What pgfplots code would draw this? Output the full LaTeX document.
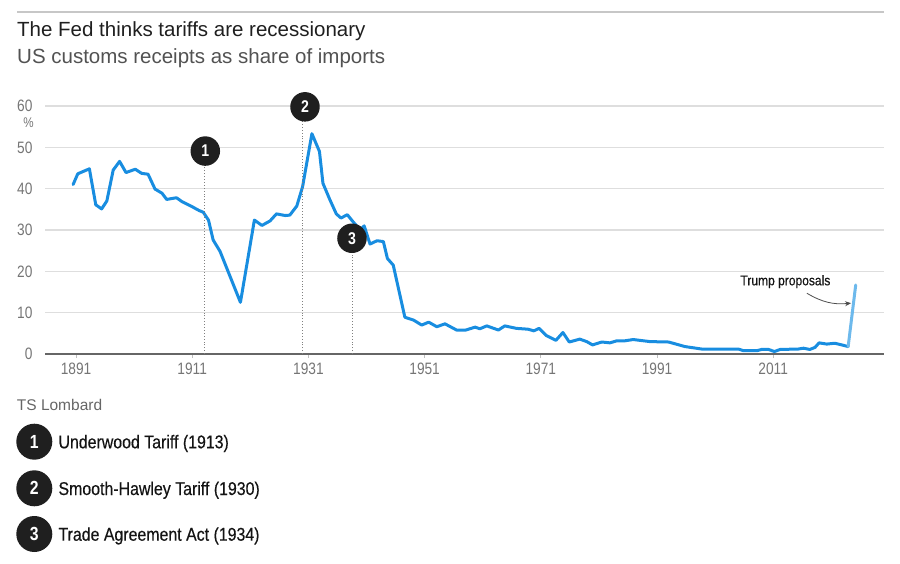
\documentclass[border=0pt]{standalone}
\usepackage{fontspec}
\setmainfont{Liberation Sans}
\newfontfamily\cond[FakeStretch=0.83]{Liberation Sans}
\newfontfamily\condm[FakeStretch=0.86,FakeBold=0.35]{Liberation Sans}
\usepackage{pgfplots}
\pgfplotsset{compat=1.18}
\usetikzlibrary{arrows.meta}
\definecolor{mainblue}{HTML}{188DE0}
\definecolor{lightblue}{HTML}{6DB9EC}
\definecolor{circ}{HTML}{1F1F1F}
\definecolor{ticktxt}{HTML}{757575}
\definecolor{gridc}{HTML}{DEDEDE}
\begin{document}
\begin{tikzpicture}
\useasboundingbox (0pt,0pt) rectangle (900pt,-564pt);
\begin{axis}[
  at={(45pt,-354pt)}, anchor=south west,
  scale only axis, width=839pt, height=248pt,
  xmin=1885.66, xmax=2030.07, ymin=0, ymax=60,
  clip=false,
  axis x line*=bottom, axis y line*=left,
  y axis line style={draw=none},
  x axis line style={draw=black!60, line width=2pt},
  ytick={0,10,...,60},
  xtick={1891,1911,1931,1951,1971,1991,2011},
  /pgf/number format/.cd, 1000 sep={}, assume math mode=true, /pgfplots/.cd,
  ymajorgrids, grid style={draw=gridc, line width=1.3pt},
  ytick style={draw=none},
  xtick style={draw=black!25, line width=1pt},
  tick align=outside, xtick pos=bottom, major tick length=4pt,
  yticklabel style={font=\cond\fontsize{16.5}{16.5}\selectfont, text=ticktxt, xshift=-5pt},
  xticklabel style={font=\cond\fontsize{16.5}{16.5}\selectfont, text=ticktxt, yshift=-1pt},
]
\addplot[color=mainblue, line width=3pt, line join=round, line cap=round] coordinates {
(1890.5,41.0) (1891.3,43.6) (1893.3,44.8) (1894.4,36.1) (1895.4,35.1) (1896.3,37.0) (1897.4,44.5) (1898.5,46.6) (1899.6,43.9) (1901.2,44.7) (1902.3,43.7) (1903.4,43.5) (1904.6,39.9) (1905.8,38.9) (1906.6,37.4) (1908.3,37.8) (1909.2,36.9) (1910.9,35.7) (1912.2,34.7) (1912.9,34.3) (1913.8,32.4) (1914.6,27.6) (1915.8,24.8) (1919.3,12.5) (1921.7,32.4) (1923.0,31.1) (1924.4,32.2) (1925.5,33.9) (1927.0,33.5) (1927.8,33.6) (1929.0,35.8) (1930.0,40.5) (1931.6,53.3) (1932.9,49.0) (1933.5,41.3) (1934.7,37.3) (1935.8,33.9) (1936.6,32.9) (1937.7,33.7) (1938.5,32.3) (1939.9,30.0) (1940.6,31.0) (1941.6,26.6) (1942.8,27.4) (1943.9,27.2) (1944.6,23.1) (1945.6,21.5) (1947.6,8.9) (1949.1,8.2) (1950.5,7.0) (1951.7,7.7) (1953.1,6.6) (1954.5,7.3) (1956.5,5.8) (1958.1,5.8) (1959.7,6.5) (1960.5,6.1) (1961.7,6.8) (1963.7,5.8) (1964.8,6.8) (1966.8,6.2) (1968.8,6.0) (1969.8,5.6) (1970.7,6.2) (1971.9,4.5) (1973.6,3.3) (1974.8,5.2) (1975.9,2.9) (1977.7,3.6) (1978.9,3.0) (1979.9,2.2) (1981.5,2.9) (1982.9,2.7) (1984.1,3.2) (1985.5,3.2) (1986.9,3.5) (1989.8,3.0) (1993.0,2.9) (1995.8,1.8) (1998.7,1.2) (2005.0,1.2) (2005.9,0.8) (2008.2,0.8) (2009.0,1.1) (2010.2,1.1) (2011.2,0.6) (2012.2,1.1) (2015.3,1.2) (2016.2,1.4) (2017.3,1.1) (2018.2,1.6) (2018.9,2.7) (2020.2,2.4) (2021.6,2.6) (2022.8,2.2) (2023.9,1.8)
};
\addplot[color=lightblue, line width=3pt, line cap=round] coordinates {(2023.9,1.8) (2025.2,16.7)};
% event markers
\draw[dotted, black!50, line width=0.9pt] (axis cs:1913.03,0) -- (axis cs:1913.03,49);
\draw[dotted, black!50, line width=0.9pt] (axis cs:1929.95,0) -- (axis cs:1929.95,59);
\draw[dotted, black!50, line width=0.9pt] (axis cs:1938.56,0) -- (axis cs:1938.56,28);
\node[circle, fill=circ, minimum size=29.5pt, inner sep=0pt, text=white, font=\cond\bfseries\fontsize{17}{17}\selectfont] at (axis cs:1913.25,49.1) {1};
\node[circle, fill=circ, minimum size=29.5pt, inner sep=0pt, text=white, font=\cond\bfseries\fontsize{17}{17}\selectfont] at (axis cs:1930.41,59.8) {2};
\node[circle, fill=circ, minimum size=29.5pt, inner sep=0pt, text=white, font=\cond\bfseries\fontsize{17}{17}\selectfont] at (axis cs:1938.5,28.0) {3};
% Trump annotation
\node[font=\condm\fontsize{14}{14}\selectfont, text=black!92] at (axis cs:2013.1,17.5) {Trump proposals};
\draw[-{Stealth[length=6pt,width=5pt]}, black!70, line width=0.8pt] (axis cs:2016.8,14.7) to[bend right=18] (axis cs:2024.4,12.3);
\end{axis}
% header
\draw[black!22, line width=1.2pt] (17pt,-12pt) -- (884pt,-12pt);
\node[anchor=base west, inner sep=0pt, text=black!88, font=\fontsize{20.5}{20.5}\selectfont] at (17pt,-36.7pt) {The Fed thinks tariffs are recessionary};
\node[anchor=base west, inner sep=0pt, text=black!68, font=\fontsize{20.5}{20.5}\selectfont] at (17pt,-63.3pt) {US customs receipts as share of imports};
\node[inner sep=0pt, text=ticktxt, font=\cond\fontsize{14}{14}\selectfont] at (28.5pt,-123pt) {\%};
% footer
\node[anchor=base west, inner sep=0pt, text=black!60, font=\fontsize{15.5}{15.5}\selectfont] at (16.7pt,-410pt) {TS Lombard};
\node[circle, fill=circ, minimum size=36pt, inner sep=0pt, text=white, font=\cond\bfseries\fontsize{19}{19}\selectfont] at (34.3pt,-441.7pt) {1};
\node[circle, fill=circ, minimum size=36pt, inner sep=0pt, text=white, font=\cond\bfseries\fontsize{19}{19}\selectfont] at (34.3pt,-488.3pt) {2};
\node[circle, fill=circ, minimum size=36pt, inner sep=0pt, text=white, font=\cond\bfseries\fontsize{19}{19}\selectfont] at (34.3pt,-534pt) {3};
\node[anchor=base west, inner sep=0pt, text=black!92, font=\condm\fontsize{18.5}{18.5}\selectfont] at (58.3pt,-448.3pt) {Underwood Tariff (1913)};
\node[anchor=base west, inner sep=0pt, text=black!92, font=\condm\fontsize{18.5}{18.5}\selectfont] at (58.3pt,-495pt) {Smooth-Hawley Tariff (1930)};
\node[anchor=base west, inner sep=0pt, text=black!92, font=\condm\fontsize{18.5}{18.5}\selectfont] at (58.3pt,-540.7pt) {Trade Agreement Act (1934)};
\end{tikzpicture}
\end{document}
